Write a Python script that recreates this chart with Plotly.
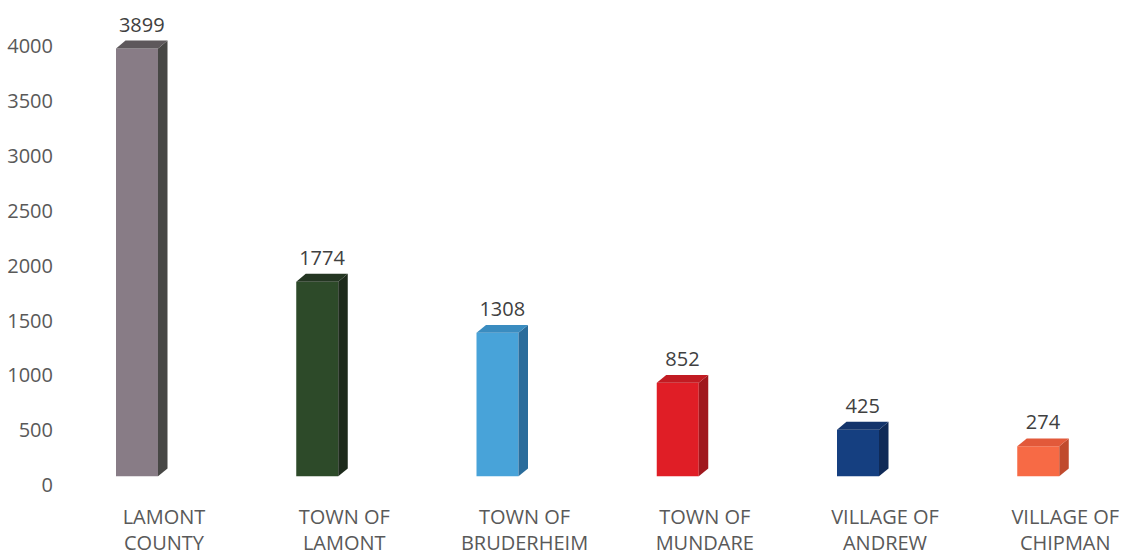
import plotly.graph_objects as go

categories = ["LAMONT<br>COUNTY", "TOWN OF<br>LAMONT", "TOWN OF<br>BRUDERHEIM",
              "TOWN OF<br>MUNDARE", "VILLAGE OF<br>ANDREW", "VILLAGE OF<br>CHIPMAN"]
values = [3899, 1774, 1308, 852, 425, 274]
front_colors = ["#887c86", "#2d4a29", "#48a3d9", "#e01e26", "#153f80", "#f76a45"]
side_colors = ["#474745", "#1d2a1b", "#2a6c9b", "#a0181e", "#0f2a57", "#c04a2d"]
top_colors = ["#5d585b", "#243622", "#3a8cc0", "#c21b22", "#13346b", "#e2593a"]
y_ticks = [0, 500, 1000, 1500, 2000, 2500, 3000, 3500, 4000]

# geometry (in data units)
px_per_cat = 180.25
px_per_unit = 0.1115
bar_w = 42 / px_per_cat
shift = -27 / px_per_cat      # front face offset from category centre
dx = 9.5 / px_per_cat         # depth in x
dy = 8 / px_per_unit          # depth in y
base = 9 / px_per_unit        # floor lift of the front face
label_gap = 4 / px_per_unit   # extra gap above bar for value labels

fig = go.Figure()
for i, (v, fc, sc, tc) in enumerate(zip(values, front_colors, side_colors, top_colors)):
    xc = i + shift
    xl, xr = xc - bar_w / 2, xc + bar_w / 2
    b, t = base, base + v
    # side face
    fig.add_trace(go.Scatter(x=[xr, xr + dx, xr + dx, xr, xr], y=[b, b + dy, t + dy, t, b],
                             fill="toself", fillcolor=sc, mode="lines", line=dict(width=0),
                             hoverinfo="skip", showlegend=False))
    # top face
    fig.add_trace(go.Scatter(x=[xl, xl + dx, xr + dx, xr, xl], y=[t, t + dy, t + dy, t, t],
                             fill="toself", fillcolor=tc, mode="lines", line=dict(width=0),
                             hoverinfo="skip", showlegend=False))
    # front face
    fig.add_trace(go.Bar(x=[xc], y=[v], base=[b], width=[bar_w], marker=dict(color=fc, line=dict(width=0)),
                         showlegend=False, hoverinfo="skip"))
    # value label
    fig.add_trace(go.Scatter(x=[xc + dx / 2], y=[t + dy + label_gap], mode="text", text=[str(v)],
                             textposition="top center", textfont=dict(size=20, color="#404040"),
                             hoverinfo="skip", showlegend=False, cliponaxis=False))

left_px, right_px, cat0_px = 60, 1121, 164
top_px, bottom_px, zero_px = 0, 504, 493
fig.update_layout(
    width=1123, height=556,
    margin=dict(l=left_px, r=1123 - right_px, t=top_px, b=556 - bottom_px),
    paper_bgcolor="white", plot_bgcolor="white",
    font=dict(family="Open Sans", size=20, color="#595959"),
    barmode="overlay",
    xaxis=dict(range=[(left_px - cat0_px) / px_per_cat, (right_px - cat0_px) / px_per_cat],
               tickmode="array", tickvals=list(range(len(categories))), ticktext=categories,
               showgrid=False, zeroline=False, showline=False, ticks="",
               ticklabelstandoff=7,
               tickfont=dict(size=20, color="#595959")),
    yaxis=dict(range=[(zero_px - bottom_px) / px_per_unit, (zero_px - top_px) / px_per_unit],
               tickmode="array", tickvals=y_ticks, ticktext=[str(t) for t in y_ticks],
               showgrid=False, zeroline=False, showline=False, ticks="",
               ticklabelstandoff=6,
               tickfont=dict(size=20, color="#595959")),
)
fig.write_html("out.html", config={"displayModeBar": False},
               post_script=("document.documentElement.style.overflow='hidden';"
                            "document.body.style.margin='0';"
                            "document.body.style.overflow='hidden';"
                            "window.scrollTo(0,0);"))
